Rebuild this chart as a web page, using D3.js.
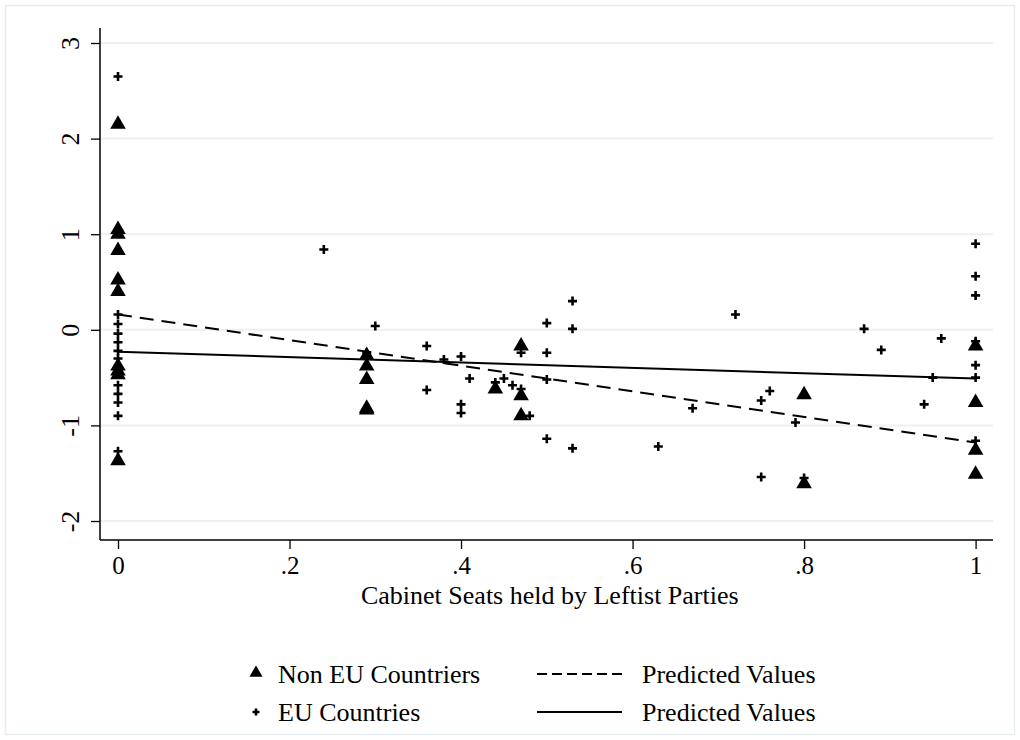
<!DOCTYPE html>
<html><head><meta charset="utf-8">
<script src="https://cdn.jsdelivr.net/npm/d3@7"></script>
<style>body{margin:0;background:#fff}svg{display:block}text{font-family:"Liberation Serif","Times New Roman",serif;fill:#000}</style>
</head><body><div id="chart"></div>
<script>
const xTicks = [0, 0.2, 0.4, 0.6, 0.8, 1];
const xTickLabels = ["0", ".2", ".4", ".6", ".8", "1"];
const yTicks = [-2, -1, 0, 1, 2, 3];
const yTickLabels = ["-2", "-1", "0", "1", "2", "3"];
const xTitle = "Cabinet Seats held by Leftist Parties";
const legendLabels = ["Non EU Countriers", "EU Countries", "Predicted Values", "Predicted Values"];

// Non EU countries (triangles)
const nonEuX = [0,0,0,0,0,0,0,0,0,0, 0.29,0.29,0.29,0.29,0.29, 0.44, 0.47,0.47,0.47, 0.80,0.80, 1,1,1,1];
const nonEuY = [2.15,1.05,1.00,0.83,0.52,0.40,-0.38,-0.43,-0.47,-1.37, -0.27,-0.38,-0.52,-0.82,-0.84, -0.62, -0.17,-0.69,-0.90, -0.68,-1.61, -0.17,-0.76,-1.26,-1.51];

// EU countries (plus)
const euX = [0,0,0,0,0,0,0,0,0,0,0,0,0, 0.24, 0.29, 0.30, 0.36,0.36, 0.38, 0.40,0.40,0.40, 0.41, 0.44, 0.45, 0.46, 0.47,0.47, 0.48, 0.50,0.50,0.50,0.50, 0.53,0.53,0.53, 0.63, 0.67, 0.72, 0.75,0.75, 0.76, 0.79, 0.80, 0.87, 0.89, 0.94, 0.95, 0.96, 1,1,1,1,1,1,1];
const euY = [2.65,1.01,0.16,0.06,-0.04,-0.13,-0.22,-0.30,-0.58,-0.67,-0.76,-0.90,-1.27, 0.84, -0.24, 0.04, -0.17,-0.63, -0.31, -0.28,-0.78,-0.87, -0.51, -0.55, -0.51, -0.58, -0.24,-0.62, -0.90, 0.07,-0.24,-0.52,-1.14, 0.30,0.01,-1.24, -1.22, -0.82, 0.16, -0.74,-1.54, -0.64, -0.97, -1.55, 0.01, -0.21, -0.78, -0.50, -0.09, 0.90,0.56,0.36,-0.12,-0.37,-0.50,-1.16];

// Predicted values
const predX = [0, 1];
const predDashedY = [0.16, -1.18];
const predSolidY = [-0.23, -0.51];

const W = 1020, H = 740;
const FS = 26;
const svg = d3.select("#chart").append("svg").attr("width", W).attr("height", H);

svg.append("rect").attr("x", 5.5).attr("y", 5.5).attr("width", W - 11).attr("height", H - 11)
  .attr("fill", "#fff").attr("stroke", "#e6eef0").attr("stroke-width", 1.5);

const plotL = 100, plotR = 993, plotT = 28, plotB = 540;
const x = d3.scaleLinear().domain([0, 1]).range([118, 975.6]);
const y = d3.scaleLinear().domain([-2, 3]).range([521, 43]);

// grid
svg.append("g").selectAll("line").data(yTicks).join("line")
  .attr("x1", plotL).attr("x2", plotR).attr("y1", d => y(d)).attr("y2", d => y(d))
  .attr("stroke", "#eaf1f2").attr("stroke-width", 2);

// y axis
const yAxis = d3.axisLeft(y).tickValues(yTicks).tickFormat((d, i) => yTickLabels[i]).tickSize(9).tickSizeOuter(0);
const gy = svg.append("g").attr("transform", `translate(${plotL},0)`).call(yAxis);
gy.select(".domain").remove();
gy.selectAll(".tick line").attr("stroke", "#000").attr("stroke-width", 1.3);
gy.selectAll(".tick text").attr("font-size", FS).attr("x", 0)
  .attr("text-anchor", "middle")
  .attr("transform", "translate(-30,0) rotate(-90)")
  .attr("dy", "0.35em").attr("font-family", "Liberation Serif");
svg.append("line").attr("x1", plotL).attr("x2", plotL).attr("y1", plotT).attr("y2", plotB).attr("stroke", "#000").attr("stroke-width", 1.5);

// x axis
const xAxis = d3.axisBottom(x).tickValues(xTicks).tickFormat((d, i) => xTickLabels[i]).tickSize(9).tickSizeOuter(0);
const gx = svg.append("g").attr("transform", `translate(0,${plotB})`).call(xAxis);
gx.select(".domain").remove();
gx.selectAll(".tick line").attr("stroke", "#000").attr("stroke-width", 1.3);
gx.selectAll(".tick text").attr("font-size", 25).attr("y", 25).attr("dy", "0.35em").attr("font-family", "Liberation Serif");
svg.append("line").attr("x1", plotL).attr("x2", plotR).attr("y1", plotB).attr("y2", plotB).attr("stroke", "#000").attr("stroke-width", 1.5);

svg.append("text").attr("x", (x(0) + x(1)) / 2 + 3).attr("y", 595).attr("dy", "0.35em").attr("text-anchor", "middle")
  .attr("font-size", FS).text(xTitle);

// predicted lines
const line = d3.line().x(d => x(d[0])).y(d => y(d[1]));
svg.append("path").datum(predX.map((v, i) => [v, predSolidY[i]])).attr("d", line)
  .attr("fill", "none").attr("stroke", "#000").attr("stroke-width", 2);
svg.append("path").datum(predX.map((v, i) => [v, predDashedY[i]])).attr("d", line)
  .attr("fill", "none").attr("stroke", "#000").attr("stroke-width", 2).attr("stroke-dasharray", "14,8");

// markers
const tri = d3.symbol().type(d3.symbolTriangle).size(105);
svg.append("g").selectAll("path").data(nonEuX.map((v, i) => [v, nonEuY[i]])).join("path")
  .attr("d", tri).attr("transform", d => `translate(${x(d[0])},${y(d[1])})`).attr("fill", "#000");

function plus(g, cx, cy, r) {
  g.append("path").attr("d", `M${cx - r},${cy}H${cx + r}M${cx},${cy - r}V${cy + r}`)
    .attr("stroke", "#000").attr("stroke-width", 2.6).attr("fill", "none");
}
const gp = svg.append("g");
euX.forEach((v, i) => plus(gp, x(v), y(euY[i]), 4.5));

// legend
const lg = svg.append("g");
lg.append("path").attr("d", d3.symbol().type(d3.symbolTriangle).size(75)).attr("transform", "translate(256,673)").attr("fill", "#000");
plus(lg, 256, 712, 3.5);
lg.append("text").attr("x", 278).attr("y", 674).attr("dy", "0.35em").attr("font-size", FS).text(legendLabels[0]);
lg.append("text").attr("x", 278).attr("y", 712).attr("dy", "0.35em").attr("font-size", FS).text(legendLabels[1]);
lg.append("line").attr("x1", 537).attr("x2", 622).attr("y1", 674).attr("y2", 674).attr("stroke", "#000").attr("stroke-width", 2).attr("stroke-dasharray", "10,5");
lg.append("line").attr("x1", 537).attr("x2", 622).attr("y1", 712).attr("y2", 712).attr("stroke", "#000").attr("stroke-width", 2);
lg.append("text").attr("x", 642).attr("y", 674).attr("dy", "0.35em").attr("font-size", FS).text(legendLabels[2]);
lg.append("text").attr("x", 642).attr("y", 712).attr("dy", "0.35em").attr("font-size", FS).text(legendLabels[3]);
</script></body></html>
